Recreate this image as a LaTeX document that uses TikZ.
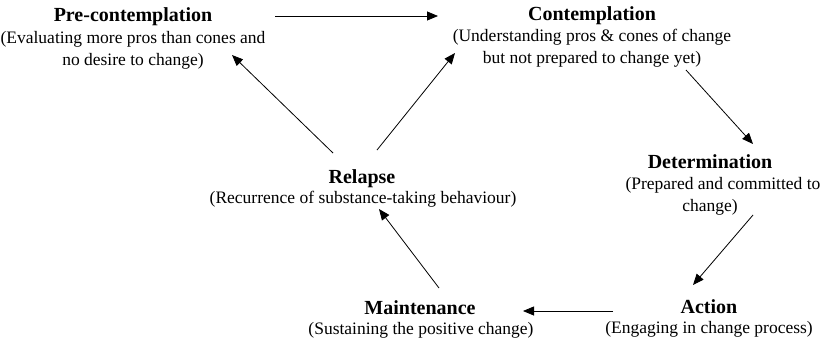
\documentclass[tikz,border=0pt]{standalone}
\usepackage{fontspec}
\setmainfont{Liberation Serif}
\usetikzlibrary{arrows.meta}
\begin{document}
\begin{tikzpicture}[x=1pt,y=-1pt,
  stagetitle/.style={anchor=base,inner sep=0pt,font=\fontsize{20}{24}\selectfont\bfseries},
  stagedesc/.style={anchor=base,inner sep=0pt,align=center,font=\fontsize{17.5}{21.5}\selectfont},
  flow/.style={line width=0.8pt,-{Triangle[length=11pt,width=9pt]}}]
\useasboundingbox (0,0) rectangle (822,341);
\fill[white] (0,0) rectangle (822,341);

% stages of change (description nodes sit on the baseline of their last line)
\node[stagetitle] (pre) at (133,21) {Pre-contemplation};
\node[stagedesc] (pred) at (133,65) {(Evaluating more pros than cones and\\no desire to change)};

\node[stagetitle] (con) at (592,20) {Contemplation};
\node[stagedesc] (cond) at (592,63) {(Understanding pros \& cones of change\\but not prepared to change yet)};

\node[stagetitle] (det) at (710,168) {Determination};
\node[stagedesc] (detd) at (723,211) {(Prepared and committed to\\change)\hspace*{26pt}};

\node[stagetitle] (act) at (709,313) {Action};
\node[stagedesc] (actd) at (709,333) {(Engaging in change process)};

\node[stagetitle] (mai) at (420,314) {Maintenance};
\node[stagedesc] (maid) at (421,334) {(Sustaining the positive change)};

\node[stagetitle] (rel) at (362,183) {Relapse};
\node[stagedesc] (reld) at (363,203) {(Recurrence of substance-taking behaviour)};

% arrow end points
\coordinate (preE)  at (275,16);
\coordinate (conW)  at (438,16);
\coordinate (conSE) at (686,70);
\coordinate (detN)  at (753,144);
\coordinate (detS)  at (753,215);
\coordinate (actN)  at (693,285);
\coordinate (actW)  at (613,311);
\coordinate (maiE)  at (523,311);
\coordinate (maiN)  at (439,288);
\coordinate (relS)  at (379,209);
\coordinate (relNW) at (333,153);
\coordinate (preSE) at (232,55);
\coordinate (relNE) at (377,150);
\coordinate (conSW) at (455,53);

\draw[flow] (preE) -- (conW);
\draw[flow] (conSE) -- (detN);
\draw[flow] (detS) -- (actN);
\draw[flow] (actW) -- (maiE);
\draw[flow] (maiN) -- (relS);
\draw[flow] (relNW) -- (preSE);
\draw[flow] (relNE) -- (conSW);
\end{tikzpicture}
\end{document}
